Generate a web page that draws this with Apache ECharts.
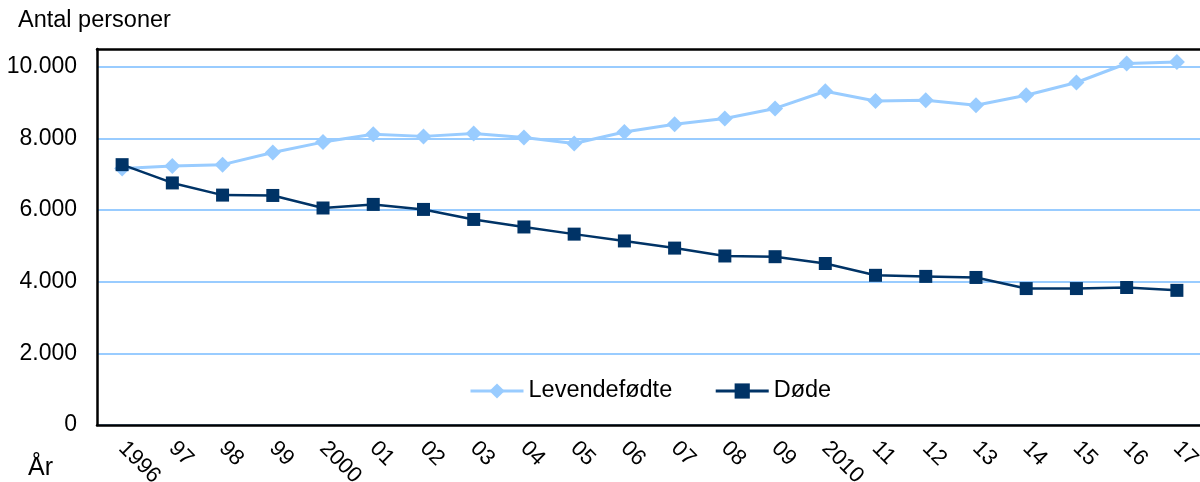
<!DOCTYPE html>
<html>
<head>
<meta charset="utf-8">
<script src="https://cdn.jsdelivr.net/npm/echarts@6/dist/echarts.min.js"></script>
<style>
html,body{margin:0;padding:0;background:#fff;}
#c{width:1200px;height:482px;}
</style>
</head>
<body>
<div id="c"></div>
<script>
const categories = ['1996','97','98','99','2000','01','02','03','04','05','06','07','08','09','2010','11','12','13','14','15','16','17'];
const levendefodte = [7160,7230,7270,7610,7900,8120,8060,8140,8030,7860,8180,8400,8560,8840,9320,9050,9070,8930,9210,9565,10095,10140];
const dode = [7270,6760,6420,6410,6060,6160,6020,5740,5530,5330,5140,4940,4720,4700,4510,4180,4150,4120,3810,3810,3840,3760];
const yTicks = [0,2000,4000,6000,8000,10000];
const yLabels = ['0','2.000','4.000','6.000','8.000','10.000'];

const FONT = '"Liberation Sans", Arial, sans-serif';
const chart = echarts.init(document.getElementById('c'));
chart.setOption({
  animation: false,
  backgroundColor: '#fff',
  graphic: [
    {type:'text', left: 18, top: 9, style:{text:'Antal personer', font:'23.5px ' + FONT, fill:'#000'}},
    {type:'text', left: 28, top: 456, style:{text:'År', font:'25px ' + FONT, fill:'#000'}}
  ],
  legend: {
    left: 464, top: 374,
    itemWidth: 53, itemHeight: 19, itemGap: 42,
    textStyle: {fontFamily: FONT, fontSize: 23.5, color:'#000'},
    data: [
      {name:'Levendefødte', lineStyle:{width:3}},
      {name:'Døde', lineStyle:{width:3}}
    ]
  },
  grid: {left: 97, top: 49, width: 1105, bottom: 57, containLabel: false, outerBoundsMode: 'none'},
  xAxis: [{
    type: 'category',
    data: categories,
    boundaryGap: true,
    axisLine: {show: true, lineStyle: {color:'#000', width: 2.5}},
    axisTick: {show: false},
    axisLabel: {rotate: -45, margin: 20, fontFamily: FONT, fontSize: 22, color:'#000', interval: 0}
  },{
    type: 'category',
    data: categories,
    position: 'top',
    axisLine: {show: true, lineStyle: {color:'#000', width: 2.5}},
    axisTick: {show: false},
    axisLabel: {show: false}
  }],
  yAxis: {
    type: 'value',
    min: 0, max: 10500, interval: 2000,
    axisLine: {show: true, lineStyle: {color:'#000', width: 2.5}},
    axisTick: {show: false},
    axisLabel: {
      margin: 20, fontFamily: FONT, fontSize: 23, color:'#000',
      formatter: function(v){ const i = yTicks.indexOf(v); return i >= 0 ? yLabels[i] : ''; }
    },
    splitLine: {show: true, showMaxLine: false, lineStyle: {color:'#99CCFF', width: 2}}
  },
  series: [
    {
      name: 'Levendefødte', type: 'line', data: levendefodte,
      symbol: 'diamond', symbolSize: 16,
      lineStyle: {color:'#99CCFF', width: 3},
      itemStyle: {color:'#99CCFF'},
      z: 3
    },
    {
      name: 'Døde', type: 'line', data: dode,
      symbol: 'rect', symbolSize: 13,
      lineStyle: {color:'#003366', width: 2.5},
      itemStyle: {color:'#003366'},
      z: 4
    }
  ]
});
</script>
</body>
</html>
